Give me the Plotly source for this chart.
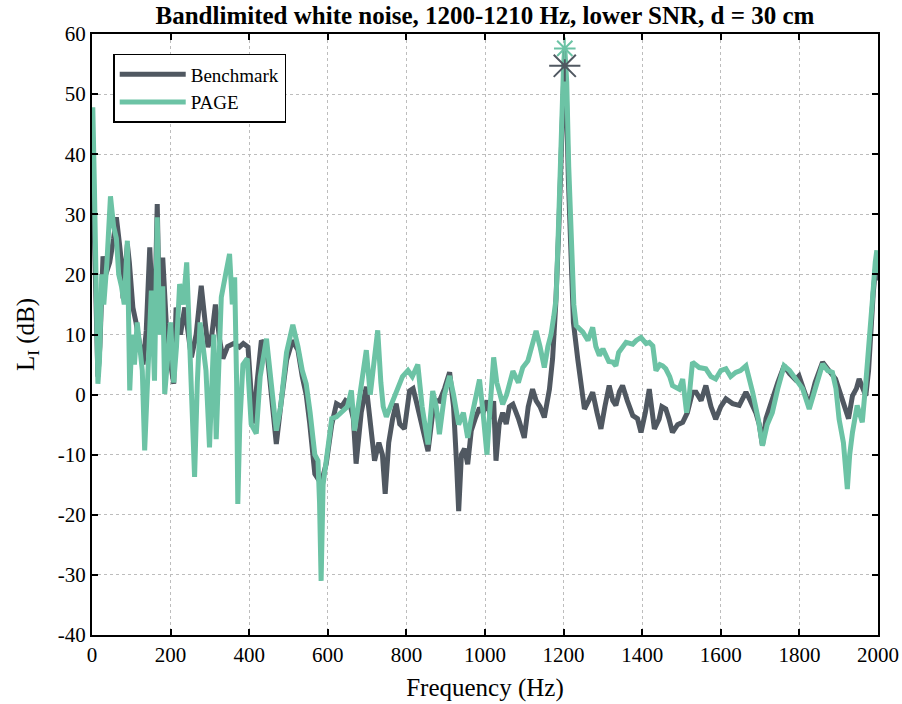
import plotly.graph_objects as go

bench_freq = [0, 5, 10, 15, 20, 28, 35, 45, 55, 62, 70, 75, 79, 85, 90, 95, 104, 112, 121, 130,
              138, 147, 155, 162, 166, 172, 180, 189, 198, 208, 214, 225, 236, 245, 253, 265, 278, 288, 295, 305,
              314, 325, 333, 345, 360, 375, 385, 397, 410, 420, 431, 444, 455, 469, 480, 495, 510, 524, 535, 545,
              554, 567, 583, 596, 610, 622, 635, 645, 656, 665, 672, 685, 698, 708, 719, 730, 739, 746, 755, 765,
              774, 783, 795, 808, 817, 825, 840, 855, 867, 876, 884, 897, 910, 920, 928, 933, 940, 948, 956, 965,
              975, 986, 995, 1005, 1015, 1022, 1028, 1036, 1045, 1054, 1062, 1071, 1085, 1100, 1110, 1121, 1130, 1140, 1151, 1164,
              1172, 1180, 1188, 1195, 1200, 1203, 1207, 1212, 1218, 1225, 1236, 1245, 1253, 1264, 1274, 1285, 1295, 1305, 1316, 1325,
              1333, 1342, 1350, 1362, 1376, 1388, 1397, 1408, 1418, 1431, 1443, 1450, 1460, 1468, 1477, 1490, 1503, 1515, 1528, 1537,
              1550, 1562, 1575, 1587, 1600, 1613, 1630, 1647, 1664, 1675, 1689, 1698, 1706, 1715, 1731, 1745, 1761, 1775, 1790, 1799,
              1810, 1825, 1840, 1859, 1875, 1892, 1905, 1918, 1925, 1935, 1945, 1952, 1960, 1969, 1976, 1981, 1988, 1995, 2000]
bench_level = [42, 30, 12, 3, 8, 23, 20, 22, 26, 29.5, 25, 22, 16, 20, 25, 22, 14.5, 12, 8.4, 5,
               10.6, 24.5, 12.9, 20, 31.7, 11.8, 22.8, 11.8, 6, 1.8, 14.5, 10, 14.5, 10, 6.2, 10, 18.1, 12, 7.9, 10,
               15, 9, 6, 8, 8.5, 7.9, 8.5, 7.9, -4.8, 2, 9, 8, 0, -8.2, -2, 5.7, 9, 7.4, 3, 0,
               -4.8, -13.2, -14.8, -11.5, -5, -1.5, -2, -1, -1.5, -4, -11.5, -3, 1.3, -4, -11, -8, -10, -16.5, -8, -4,
               -1.5, -4.9, -5.7, 0.6, 1, -1.1, -5, -9.4, -3, -1, -1.1, 1, 3.7, -2, -12, -19.4, -10, -9, -11.6, -6,
               -4, -2.2, -3, -1, -4, -1.1, -11, -5, -3, -4.9, -2, -1.6, -4, -7.2, -2, 0.9, -1, -2, -3.8, 0.9,
               6, 15, 28, 45, 52, 55, 50, 36, 22, 12, 5.9, 1, -2.4, -1, 0.4, -3, -5.7, -2, 1.5, -1,
               -1.8, 0.5, 1.5, -1, -3.5, -4, -6.3, -3, 0.9, -5.7, -4.1, -2, -2.4, -4, -6.3, -5, -4.6, -3, 0.4, 0.4,
               -1, 1.5, -2, -4.1, -2, -0.7, -1.5, -1.8, 0.4, -1, -3, -5, -8.5, -4, -0.7, 2, 4.8, 3.5, 2.5, 3.1,
               1, -1.8, 2, 5.4, 4, 2.6, 0, -2.4, -4, -0.2, 1, 2.6, 1, -0.2, 4, 10.4, 17, 22, 19]

page_freq = [0, 2, 6, 10, 15, 19, 25, 30, 38, 47, 55, 62, 68, 75, 82, 90, 96, 102, 108, 115,
             121, 128, 134, 140, 145, 151, 159, 166, 172, 180, 185, 192, 200, 208, 215, 223, 232, 241, 248, 255,
             261, 268, 275, 282, 290, 299, 305, 310, 316, 322, 329, 340, 350, 357, 363, 368, 371, 376, 384, 395,
             405, 418, 428, 444, 455, 469, 480, 495, 511, 524, 535, 545, 555, 567, 575, 579, 583, 588, 596, 610,
             622, 635, 650, 660, 668, 675, 685, 698, 708, 718, 727, 735, 741, 749, 760, 774, 790, 804, 815, 829,
             840, 855, 867, 876, 884, 897, 910, 920, 933, 945, 956, 965, 975, 986, 995, 1005, 1012, 1022, 1030, 1045,
             1055, 1071, 1085, 1096, 1109, 1120, 1130, 1140, 1151, 1160, 1168, 1175, 1181, 1188, 1195, 1200, 1203, 1208, 1213, 1220,
             1226, 1232, 1249, 1262, 1274, 1282, 1291, 1300, 1315, 1325, 1333, 1340, 1350, 1359, 1376, 1385, 1397, 1410, 1418, 1427,
             1435, 1445, 1452, 1460, 1470, 1477, 1494, 1503, 1513, 1520, 1528, 1545, 1562, 1575, 1587, 1600, 1613, 1625, 1638, 1650,
             1664, 1672, 1681, 1695, 1706, 1718, 1731, 1745, 1761, 1775, 1791, 1808, 1825, 1840, 1859, 1872, 1884, 1893, 1901, 1912,
             1918, 1922, 1928, 1935, 1947, 1960, 1969, 1980, 1986, 1993, 1997, 2000]
page_level = [40, 47.8, 35, 18, 1.8, 5.6, 20, 15, 22, 33, 28, 26, 20, 18, 15, 25.6, 0.7, 10, 5, 12,
              8, 4, -9.3, 2, 10, 17.3, 2.3, 29.5, 10, 18, 0.1, 5, 12, 2, 8, 18.4, 15, 22, 10, 0,
              -13.7, 2, 12, 8.4, 4, -8.8, 2, 10, -7.4, 5, 16.2, 20, 23.4, 15, 19.5, 2, -18.2, -5, 5, 6,
              -4.9, -6.5, 3, 9.3, 2, -6, -2, 7, 11.6, 8, 4, 1.8, -3, -10, -11, -18, -31, -15, -11, -4,
              -3.7, -3, -2, 0.7, -6, -3, 2, 7.4, 0, 6, 10.7, 2, -2, -3.7, -2, 0, 3, 4, 3, 5,
              -2, -8.3, 0.6, -2, -6.6, 0, 3.1, 0, -5, -3, -7.2, -4, -1, 2.5, -3, -10, -3, 6.2, 2, -1.6,
              0, 3.9, 2, 4.5, 5.6, 8, 10.6, 8, 4.5, 8, 10, 13, 16, 30, 48, 55, 57.5, 52, 38, 24,
              15, 11.5, 10.4, 9, 11.2, 8, 6.5, 7.6, 5.5, 5.4, 4.8, 7, 8.1, 8.7, 8.4, 9, 9.5, 8.5, 8.7, 8.1,
              4, 5, 4.8, 4.3, 3, 1.5, 0.9, 2.6, -3, 0, 5.4, 4.5, 4.3, 3, 2.6, 4, 4.3, 3, 3.7, 4,
              4.8, 3, 0.4, -4, -8.5, -5, -3, 1, 4.8, 4, 2.6, 1, -2.4, 1, 5.1, 4, 3.7, 1, -4.1, -8,
              -14, -15.7, -10, -6.3, -1.8, -4.6, 2, 10, 15.9, 22, 24, 20]

peak_freq = [1203]
peak_bench = [54.7]
peak_page = [57.6]

x_ticks = [0, 200, 400, 600, 800, 1000, 1200, 1400, 1600, 1800, 2000]
x_tick_labels = ["0", "200", "400", "600", "800", "1000", "1200", "1400", "1600", "1800", "2000"]
y_ticks = [-40, -30, -20, -10, 0, 10, 20, 30, 40, 50, 60]
y_tick_labels = ["-40", "-30", "-20", "-10", "0", "10", "20", "30", "40", "50", "60"]

BENCH_COLOR = "#505861"
PAGE_COLOR = "#6CC3A5"
FONT = "Liberation Serif"

fig = go.Figure()
fig.add_trace(go.Scatter(x=bench_freq, y=bench_level, mode="lines", name="Benchmark",
                         line=dict(color=BENCH_COLOR, width=5)))
fig.add_trace(go.Scatter(x=page_freq, y=page_level, mode="lines", name="PAGE",
                         line=dict(color=PAGE_COLOR, width=5)))
fig.add_trace(go.Scatter(x=peak_freq, y=peak_bench, mode="markers", showlegend=False,
                         marker=dict(symbol="asterisk-open", size=26, color=BENCH_COLOR,
                                     line=dict(color=BENCH_COLOR, width=2))))
fig.add_trace(go.Scatter(x=peak_freq, y=peak_page, mode="markers", showlegend=False,
                         marker=dict(symbol="asterisk-open", size=18, color=PAGE_COLOR,
                                     line=dict(color=PAGE_COLOR, width=2))))

axis_common = dict(showline=True, linecolor="black", linewidth=2, mirror="allticks",
                   ticks="inside", ticklen=6, tickwidth=2, tickcolor="black",
                   showgrid=True, gridcolor="#bdbdbd", griddash="dot", gridwidth=1,
                   zeroline=False, automargin=False,
                   tickfont=dict(family=FONT, size=21, color="black"))

fig.update_layout(
    width=902, height=704,
    margin=dict(l=92, r=24, t=34, b=69),
    plot_bgcolor="white", paper_bgcolor="white",
    font=dict(family=FONT, color="black"),
    title=dict(text="<b>Bandlimited white noise, 1200-1210 Hz, lower SNR, d = 30 cm</b>",
               x=0.5, xref="paper", xanchor="center", yref="container", y=0.979, yanchor="middle",
               font=dict(family=FONT, size=25, color="black")),
    xaxis=dict(range=[0, 2000], tickvals=x_ticks, ticktext=x_tick_labels,
               title=dict(text="Frequency (Hz)", font=dict(family=FONT, size=25), standoff=12),
               **axis_common),
    yaxis=dict(range=[-40, 60], tickvals=y_ticks, ticktext=y_tick_labels,
               title=dict(text="L<sub>I</sub> (dB)", font=dict(family=FONT, size=25), standoff=16),
               **axis_common),
    legend=dict(x=0.027, y=0.967, xanchor="left", yanchor="top",
                bgcolor="white", bordercolor="black", borderwidth=1.5,
                font=dict(family=FONT, size=19, color="black"),
                tracegroupgap=0, itemwidth=66),
    showlegend=True,
)

# remove the browser's default 8px body margin so the 902x704 figure fills the window
fig.write_html("out.html", config={"displayModeBar": False},
               post_script="document.body.style.margin='0px';")
